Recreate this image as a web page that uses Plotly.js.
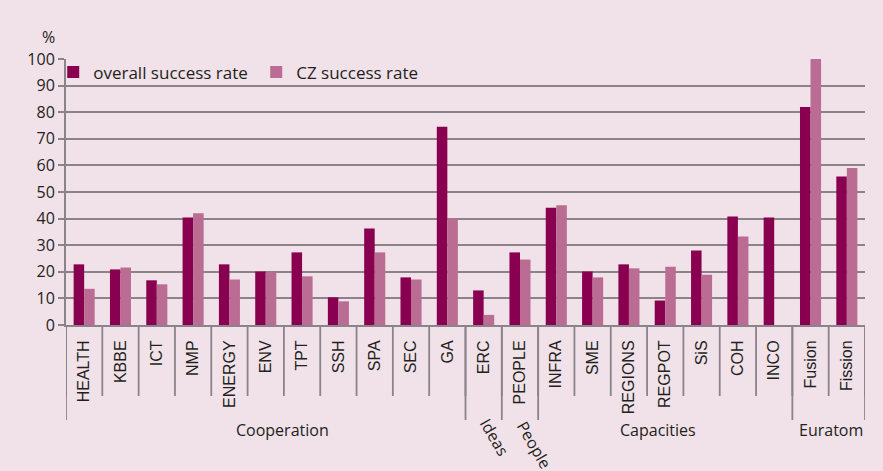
<!DOCTYPE html>
<html>
<head>
<meta charset="utf-8">
<script src="https://cdn.plot.ly/plotly-3.0.1.min.js"></script>
<style>
  html, body { margin: 0; padding: 0; background: #f1e1e9; }
  #chart { width: 883px; height: 471px; }
</style>
</head>
<body>
<div id="chart"></div>
<script>
// ---- data ----
var categories = ["HEALTH","KBBE","ICT","NMP","ENERGY","ENV","TPT","SSH","SPA","SEC","GA",
                  "ERC","PEOPLE","INFRA","SME","REGIONS","REGPOT","SiS","COH","INCO","Fusion","Fission"];
var overallRate = [22.8,20.9,16.8,40.4,22.8,20.1,27.3,10.4,36.3,17.9,74.5,
                   13.0,27.3,44.1,20.1,22.8,9.2,28.0,40.8,40.4,82.0,55.8];
var czRate      = [13.6,21.6,15.3,42.0,17.1,19.8,18.3,8.9,27.3,17.1,40.0,
                   3.8,24.6,45.0,17.9,21.3,21.9,18.9,33.3,null,100.0,59.0];
var groupNames  = ["Cooperation","Ideas","People","Capacities","Euratom"];
var groupSizes  = [11,1,1,7,2];
var seriesNames = ["overall success rate","CZ success rate"];
var yTicks = [0,10,20,30,40,50,60,70,80,90,100];

// ---- styles ----
var bg = "#f1e1e9";
var gridCol = "#8b838b";
var textCol = "#231f20";
var colOverall = "#8a0050";
var colCZ = "#ba6c93";

var idx = categories.map(function(_, i){ return i; });

var traces = [
  {type: "bar", name: seriesNames[0], x: idx, y: overallRate, marker: {color: colOverall}, hoverinfo: "skip"},
  {type: "bar", name: seriesNames[1], x: idx, y: czRate, marker: {color: colCZ}, hoverinfo: "skip"}
];

// dividers and group labels
var shapes = [];
var annotations = [];
var innerDepth = -71/266;
var groupDepth = -95/266;
for (var i = 0; i <= categories.length; i++) {
  shapes.push({type: "line", xref: "x", yref: "paper", x0: i - 0.5, x1: i - 0.5,
               y0: 0, y1: innerDepth, line: {color: gridCol, width: 1.8}});
}
var start = 0;
var labelShift = [{dx: 0.45, y: -0.395, angle: 0},
                  {dx: 0.3, y: -0.42, angle: 60},
                  {dx: 0.4, y: -0.45, angle: 60},
                  {dx: -0.2, y: -0.395, angle: 0},
                  {dx: 0.05, y: -0.395, angle: 0}];
groupSizes.forEach(function(n, g) {
  shapes.push({type: "line", xref: "x", yref: "paper", x0: start - 0.5, x1: start - 0.5,
               y0: 0, y1: groupDepth, line: {color: gridCol, width: 1.8}});
  var center = start + (n - 1) / 2;
  annotations.push({text: groupNames[g], xref: "x", yref: "paper",
                    x: center + labelShift[g].dx, y: labelShift[g].y,
                    xanchor: "center", yanchor: "middle", showarrow: false,
                    textangle: labelShift[g].angle,
                    font: {family: "Open Sans", size: 16, color: textCol}});
  start += n;
});
shapes.push({type: "line", xref: "x", yref: "paper", x0: start - 0.5, x1: start - 0.5,
             y0: 0, y1: groupDepth, line: {color: gridCol, width: 1.8}});

annotations.push({text: "%", xref: "paper", yref: "paper", x: -0.022, y: 1.083,
                  xanchor: "center", yanchor: "middle", showarrow: false,
                  font: {family: "Open Sans", size: 16, color: textCol}});

var layout = {
  width: 883, height: 471,
  paper_bgcolor: bg, plot_bgcolor: bg,
  margin: {l: 66, r: 18, t: 59, b: 146},
  barmode: "group", bargap: 0.42, bargroupgap: 0,
  showlegend: true,
  legend: {orientation: "h", x: -0.016, y: 1.017, xanchor: "left", yanchor: "top",
           bgcolor: "rgba(0,0,0,0)", entrywidth: 158, entrywidthmode: "pixels",
           font: {family: "Open Sans", size: 17, color: textCol}, traceorder: "normal"},
  xaxis: {
    type: "linear", range: [-0.5, categories.length - 0.5],
    tickmode: "array", tickvals: idx, ticktext: categories,
    tickangle: -90, ticks: "", showgrid: false, zeroline: false,
    showline: true, linecolor: gridCol, linewidth: 2,
    tickfont: {family: "Liberation Sans", size: 16, color: textCol},
    ticklabelstandoff: 7, fixedrange: true
  },
  yaxis: {
    range: [0, 100], tickmode: "array", tickvals: yTicks,
    showgrid: true, gridcolor: gridCol, gridwidth: 2,
    zeroline: false, showline: true, linecolor: gridCol, linewidth: 2,
    ticks: "outside", ticklen: 6, tickwidth: 2, tickcolor: gridCol,
    tickfont: {family: "Open Sans", size: 16, color: textCol}, fixedrange: true
  },
  shapes: shapes,
  annotations: annotations
};

Plotly.newPlot("chart", traces, layout, {displayModeBar: false, staticPlot: true});
</script>
</body>
</html>
